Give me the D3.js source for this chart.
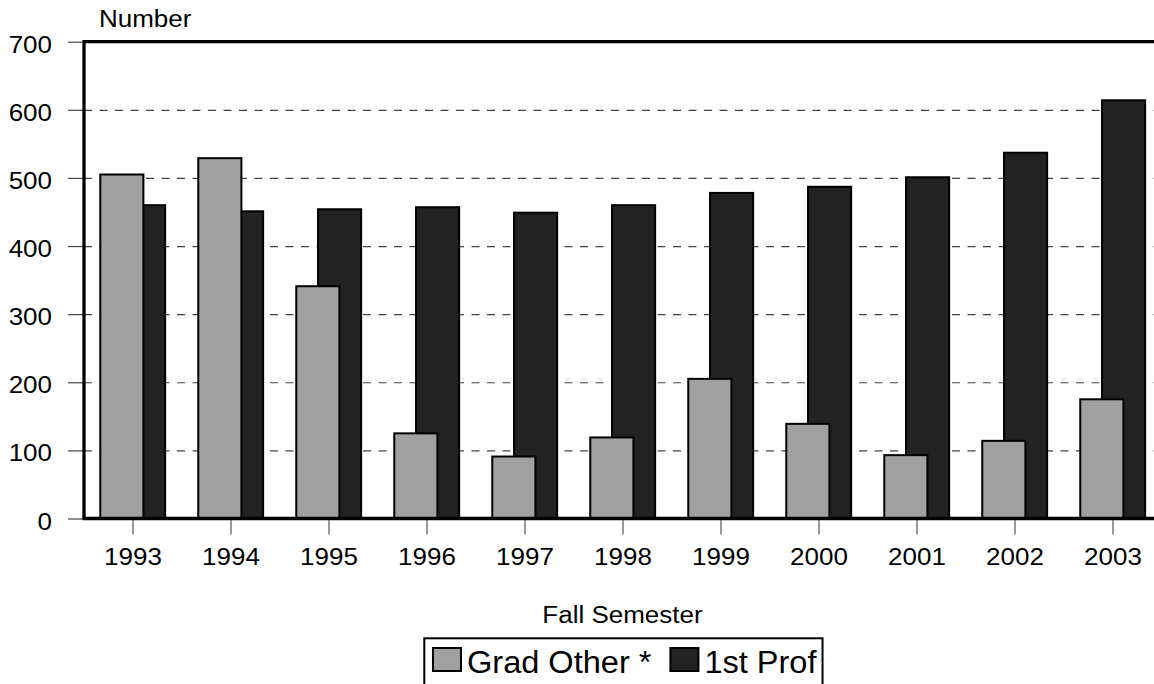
<!DOCTYPE html>
<html>
<head>
<meta charset="utf-8">
<script src="https://cdn.jsdelivr.net/npm/d3@7"></script>
<style>
  html, body { margin: 0; padding: 0; background: #fff; }
  svg { display: block; font-family: "Liberation Sans", Arial, Helvetica, sans-serif; }
</style>
</head>
<body>
<script>
// ---------------------------------------------------------------------------
// data
// ---------------------------------------------------------------------------
var years     = ["1993", "1994", "1995", "1996", "1997", "1998", "1999", "2000", "2001", "2002", "2003"]
var gradOther = [505, 529, 341, 125, 91, 119, 205, 139, 93, 114, 175]
var firstProf = [460, 451, 454, 457, 449, 460, 478, 487, 501, 537, 614]
var yTicks    = [0, 100, 200, 300, 400, 500, 600, 700]
var seriesNames = ["Grad Other *", "1st Prof"]

// ---------------------------------------------------------------------------
// layout  (plot runs a little past the right edge, as in the reference)
// ---------------------------------------------------------------------------
var W = 1154, H = 684
var plotL = 84, plotR = 1162, plotT = 41.7, plotB = 518.5
var GRAY = "#a0a0a0", DARK = "#222"
var FS = 23, STRETCH = 1.13

var svg = d3.select("body").append("svg")
  .attr("width", W)
  .attr("height", H)

var x = d3.scaleBand().domain(years).range([plotL, plotR]).padding(0)
var y = d3.scaleLinear().domain([0, 700]).range([plotB, plotT])
var bw = x.bandwidth()

// the reference text is a bit wider than Arial, so widen it about its anchor
function stretch(sel, k) {
  sel.each(function () {
    var t = d3.select(this), x0 = +t.attr("x") || 0
    t.attr("transform", "translate(" + (x0 * (1 - k)) + ",0) scale(" + k + ",1)")
  })
}

// ---------------------------------------------------------------------------
// grid
// ---------------------------------------------------------------------------
svg.append("g")
  .attr("transform", "translate(" + plotL + ",0)")
  .call(d3.axisLeft(y).tickValues(yTicks.filter(function (d) { return d > 0 && d < 700 }))
    .tickSize(-(plotR - plotL)).tickFormat(""))
  .call(function (g) {
    g.select(".domain").remove()
    g.selectAll("line").attr("stroke", "#444").attr("stroke-width", 1.2).attr("stroke-dasharray", "8,7.5")
  })

// ---------------------------------------------------------------------------
// bars : dark one behind, gray one in front
// ---------------------------------------------------------------------------
svg.append("g").selectAll("rect")
  .data(firstProf)
  .join("rect")
  .attr("x", function (d, i) { return x(years[i]) + bw * 0.388 })
  .attr("y", function (d) { return y(d) })
  .attr("width", bw * 0.44)
  .attr("height", function (d) { return y(0) - y(d) })
  .attr("fill", DARK)
  .attr("stroke", "#000")
  .attr("stroke-width", 2)

svg.append("g").selectAll("rect")
  .data(gradOther)
  .join("rect")
  .attr("x", function (d, i) { return x(years[i]) + bw * 0.166 })
  .attr("y", function (d) { return y(d) })
  .attr("width", bw * 0.44)
  .attr("height", function (d) { return y(0) - y(d) })
  .attr("fill", GRAY)
  .attr("stroke", "#000")
  .attr("stroke-width", 2)

// ---------------------------------------------------------------------------
// axes
// ---------------------------------------------------------------------------
var yAxis = svg.append("g")
  .attr("transform", "translate(" + plotL + ",0)")
  .call(d3.axisLeft(y).tickValues(yTicks).tickSize(16).tickPadding(16).tickSizeOuter(0))
yAxis.select(".domain").remove()
yAxis.selectAll("line").attr("stroke", "#444").attr("stroke-width", 1.2)
yAxis.selectAll("text")
  .attr("fill", "#000")
  .attr("font-size", FS)
  .attr("dy", "0.46em")
  .call(stretch, STRETCH)

var xAxis = svg.append("g")
  .attr("transform", "translate(0," + plotB + ")")
  .call(d3.axisBottom(x).tickSize(16).tickPadding(14).tickSizeOuter(0))
xAxis.select(".domain").remove()
xAxis.selectAll("line").attr("stroke", "#555").attr("stroke-width", 1.2)
xAxis.selectAll("text")
  .attr("fill", "#000")
  .attr("font-size", FS)
  .call(stretch, STRETCH)

// frame: left, top and the zero line are heavy
svg.append("path")
  .attr("d", "M" + plotL + "," + plotB + "V" + plotT + "H" + plotR)
  .attr("fill", "none")
  .attr("stroke", "#000")
  .attr("stroke-width", 3.3)
svg.append("line")
  .attr("x1", plotL - 1.5).attr("x2", plotR)
  .attr("y1", plotB).attr("y2", plotB)
  .attr("stroke", "#000")
  .attr("stroke-width", 3.3)

// titles
svg.append("text")
  .attr("x", 99).attr("y", 27)
  .attr("font-size", FS)
  .text("Number")
  .call(stretch, STRETCH)

svg.append("text")
  .attr("x", 622.5).attr("y", 623)
  .attr("text-anchor", "middle")
  .attr("font-size", FS)
  .text("Fall Semester")
  .call(stretch, STRETCH)

// ---------------------------------------------------------------------------
// legend (runs off the bottom edge, like the reference)
// ---------------------------------------------------------------------------
var LFS = 31, LK = 1.05
var legend = svg.append("g")
var box = legend.append("rect")
  .attr("x", 424.3).attr("y", 638.3)
  .attr("height", 80)
  .attr("fill", "#fff")
  .attr("stroke", "#000")
  .attr("stroke-width", 2)

var lx = 433
seriesNames.forEach(function (name, i) {
  legend.append("rect")
    .attr("x", lx).attr("y", 648)
    .attr("width", 28).attr("height", 23)
    .attr("fill", i == 0 ? GRAY : DARK)
    .attr("stroke", "#000")
    .attr("stroke-width", 2)
  var t = legend.append("text")
    .attr("x", lx + 34).attr("y", 673)
    .attr("font-size", LFS)
    .text(name)
    .call(stretch, LK)
  lx = lx + 34 + t.node().getComputedTextLength() * LK + 19
})
box.attr("width", lx - 19 + 6 - 424.3)
</script>
</body>
</html>
